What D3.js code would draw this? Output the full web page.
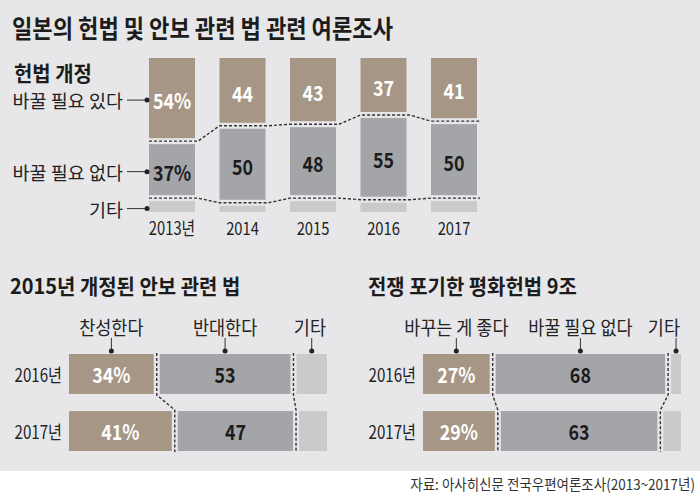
<!DOCTYPE html>
<html><head><meta charset="utf-8">
<script src="https://cdn.jsdelivr.net/npm/d3@7"></script>
<style>html,body{margin:0;padding:0;background:#fff;}svg{display:block;}</style>
</head><body>
<script>
// ---- data ----
const titleText = '일본의 헌법 및 안보 관련 법 관련 여론조사';
const topHeader = '헌법 개정';
const topYears = ['2013년', '2014', '2015', '2016', '2017'];
const topSeries = ['바꿀 필요 있다', '바꿀 필요 없다', '기타'];
const topNeed = [54, 44, 43, 37, 41];
const topNoNeed = [37, 50, 48, 55, 50];
const topOther = [9, 6, 9, 8, 9];

const secHeader = '2015년 개정된 안보 관련 법';
const secRows = ['2016년', '2017년'];
const secCats = ['찬성한다', '반대한다', '기타'];
const secFor = [34, 41];
const secAgainst = [53, 47];
const secOther = [13, 12];

const artHeader = '전쟁 포기한 평화헌법 9조';
const artRows = ['2016년', '2017년'];
const artCats = ['바꾸는 게 좋다', '바꿀 필요 없다', '기타'];
const artChange = [27, 29];
const artKeep = [68, 63];
const artOther = [5, 8];

const sourceText = '자료: 아사히신문 전국우편여론조사(2013~2017년)';

// ---- style ----
const W = 700, H = 499;
const BG = '#e7e7e9', BROWN = '#a69685', GRAY = '#a4a5a9', LIGHT = '#cacacd', INK = '#1c1c1c';
const segColors = [BROWN, GRAY, LIGHT];
const valColors = ['#ffffff', INK, INK];
const FONT = '"Noto Sans CJK KR", "Noto Sans", sans-serif';

const svg = d3.select('body').append('svg').attr('width', W).attr('height', H)
  .style('font-family', FONT);
svg.append('rect').attr('width', W).attr('height', H).attr('fill', '#fff');
svg.append('rect').attr('width', W).attr('height', 471).attr('fill', BG);

function T(g, x, y, s, o) {
  return g.append('text')
    .attr('transform', `translate(${x},${y}) scale(${o.sx || 1},1)`)
    .attr('text-anchor', o.a || 'start')
    .attr('dominant-baseline', 'central')
    .attr('font-size', o.fs)
    .attr('font-weight', o.fw || 400)
    .attr('fill', o.c || INK)
    .text(s);
}

// title
T(svg, 12, 27, titleText, {fs: 25, fw: 700, sx: 0.885});

// ---- top chart ----
const gTop = svg.append('g');
T(gTop, 14, 72, topHeader, {fs: 21, fw: 700, sx: 0.95});
const xTop = d3.scalePoint().domain(topYears).range([172, 454]);
const yTop = d3.scaleLinear().domain([0, 100]).range([58, 212]);
const BW = 46, GAP = 3;
const topData = topYears.map((yr, i) => ({yr, vals: [topNeed[i], topNoNeed[i], topOther[i]]}));
topData.forEach(d => {
  let cum = 0;
  d.segs = d.vals.map((v, k) => {
    const s = {k, v, y0: yTop(cum) + (k > 0 ? GAP : 0), y1: yTop(cum + v) - (k < 2 ? GAP : 0), b: cum + v};
    cum += v; return s;
  });
});
topData.forEach((d, i) => {
  const cx = xTop(d.yr);
  d.segs.forEach(s => {
    gTop.append('rect').attr('x', cx - BW / 2).attr('y', s.y0).attr('width', BW)
      .attr('height', s.y1 - s.y0).attr('fill', segColors[s.k]);
    if (s.k < 2) {
      T(gTop, cx, (s.y0 + s.y1) / 2 + 2, s.v + (i === 0 ? '%' : ''),
        {fs: 21, fw: 700, sx: 0.85, a: 'middle', c: valColors[s.k]});
    }
  });
  T(gTop, cx, 227, d.yr, {fs: 18, sx: 0.82, a: 'middle', c: '#222'});
});
// dashed boundary lines
[0, 1].forEach(k => {
  const pts = [];
  topData.forEach(d => {
    const yb = yTop(d.segs[k].b);
    pts.push([xTop(d.yr) - BW / 2, yb], [xTop(d.yr) + BW / 2 + 3, yb]);
  });
  gTop.append('path').attr('d', d3.line()(pts)).attr('fill', 'none')
    .attr('stroke', '#333').attr('stroke-width', 1.4).attr('stroke-dasharray', '3,2');
});
// left legend labels
topSeries.forEach((name, k) => {
  const s = topData[0].segs[k];
  const yy = (s.y0 + s.y1) / 2 + 2;
  T(gTop, 123, yy, name, {fs: 18.5, a: 'end', c: '#222'});
  gTop.append('line').attr('x1', 127).attr('x2', 146).attr('y1', yy).attr('y2', yy)
    .attr('stroke', '#333').attr('stroke-width', 1);
  gTop.append('circle').attr('cx', 147).attr('cy', yy).attr('r', 2.5).attr('fill', '#222');
});

// ---- horizontal stacked charts ----
function hChart(x0, hx, header, rows, cats, series) {
  const g = svg.append('g');
  T(g, hx, 285, header, {fs: 21, fw: 700, sx: 0.95});
  const x = d3.scaleLinear().domain([0, 100]).range([x0, x0 + 258]);
  const y = d3.scaleBand().domain(rows).range([354, 451]).paddingInner(0.3).paddingOuter(0);
  const data = rows.map((r, i) => {
    let cum = 0;
    const segs = series.map((arr, k) => {
      const v = arr[i];
      const s = {k, v, x0: x(cum) + (k > 0 ? GAP : 0), x1: x(cum + v) - (k < 2 ? GAP : 0), b: cum + v};
      cum += v; return s;
    });
    return {r, segs};
  });
  data.forEach(d => {
    const y0 = y(d.r), bh = y.bandwidth();
    d.segs.forEach(s => {
      g.append('rect').attr('x', s.x0).attr('y', y0).attr('width', s.x1 - s.x0)
        .attr('height', bh).attr('fill', segColors[s.k]);
      if (s.k < 2) {
        T(g, (s.x0 + s.x1) / 2, y0 + bh / 2, s.v + (s.k === 0 ? '%' : ''),
          {fs: 21, fw: 700, sx: 0.85, a: 'middle', c: valColors[s.k]});
      }
    });
    T(g, x0 - 7, y0 + bh / 2, d.r, {fs: 18, sx: 0.84, a: 'end', c: '#222'});
  });
  // dashed vertical boundaries
  [0, 1].forEach(k => {
    const pts = [];
    data.forEach(d => {
      const xb = x(d.segs[k].b);
      pts.push([xb, y(d.r) - 1], [xb, y(d.r) + y.bandwidth() + 1]);
    });
    g.append('path').attr('d', d3.line()(pts)).attr('fill', 'none')
      .attr('stroke', '#333').attr('stroke-width', 1.4).attr('stroke-dasharray', '3,2');
  });
  // category labels with connectors
  cats.forEach((name, k) => {
    const s = data[0].segs[k];
    const cx = (s.x0 + s.x1) / 2;
    const t = T(g, cx, 327, name, {fs: 19, sx: 0.92, a: 'middle', c: '#222'});
    if (k === 2) {
      t.attr('transform', `translate(${x0 + 258 - 1},327) scale(0.92,1)`).attr('text-anchor', 'end');
    }
    g.append('line').attr('x1', cx).attr('x2', cx).attr('y1', 338).attr('y2', 351)
      .attr('stroke', '#333').attr('stroke-width', 1);
    g.append('circle').attr('cx', cx).attr('cy', 351).attr('r', 2.5).attr('fill', '#222');
  });
}
hChart(69, 10, secHeader, secRows, secCats, [secFor, secAgainst, secOther]);
hChart(423, 368, artHeader, artRows, artCats, [artChange, artKeep, artOther]);

// source
T(svg, 695, 483, sourceText, {fs: 15, sx: 0.9, a: 'end', c: '#333'});
</script>
</body></html>
